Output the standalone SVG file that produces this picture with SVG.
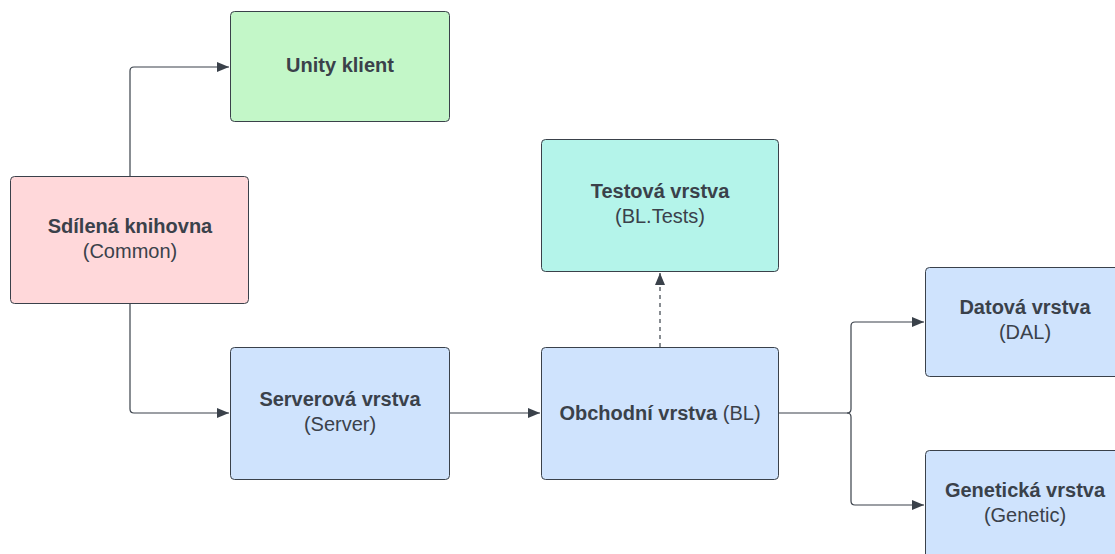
<svg xmlns="http://www.w3.org/2000/svg" width="1115" height="554" viewBox="0 0 1115 554">
<style>
.box{stroke:#3a414a;stroke-width:1}
.t{font-family:"Liberation Sans",Arial,sans-serif;font-size:20px;fill:#3a414a;text-anchor:middle}
.b{font-weight:bold}
.c{fill:none;stroke:#3a414a;stroke-width:1.2}
.d{stroke-dasharray:4 4}
</style>
<defs>
<marker id="ah" viewBox="0 0 12 10" refX="12" refY="5" markerWidth="12" markerHeight="10" markerUnits="userSpaceOnUse" orient="auto">
<path d="M0,0 L12,5 L0,10 Z" fill="#3a414a"/>
</marker>
</defs>
<rect width="1115" height="554" fill="#ffffff"/>
<g id="connectors">
<path class="c" d="M130,176 V71 Q130,67 134,67 H229" marker-end="url(#ah)"/>
<path class="c" d="M130,304 V409 Q130,413 134,413 H229" marker-end="url(#ah)"/>
<path class="c" d="M450,413 H540" marker-end="url(#ah)"/>
<path class="c d" d="M660,347 V273" marker-end="url(#ah)"/>
<path class="c" d="M779,413 H847 Q851,413 851,409 V326 Q851,322 855,322 H924" marker-end="url(#ah)"/>
<path class="c" d="M847,413 Q851,413 851,417 V501 Q851,505 855,505 H924" marker-end="url(#ah)"/>
</g>
<g id="unity">
<rect class="box" x="230.5" y="11.5" width="219" height="110" rx="4" fill="#c3f7c8"/>
<text class="t b" x="340" y="72">Unity klient</text>
</g>
<g id="common">
<rect class="box" x="10.5" y="176.5" width="238" height="127" rx="4" fill="#ffd8da"/>
<text class="t b" x="130" y="233">Sdílená knihovna</text>
<text class="t" x="130" y="258">(Common)</text>
</g>
<g id="server">
<rect class="box" x="230.5" y="347.5" width="219" height="132" rx="4" fill="#cfe3fd"/>
<text class="t b" x="340" y="406">Serverová vrstva</text>
<text class="t" x="340" y="431">(Server)</text>
</g>
<g id="bl">
<rect class="box" x="541.5" y="347.5" width="237" height="132" rx="4" fill="#cfe3fd"/>
<text class="t" x="660" y="420"><tspan class="b">Obchodní vrstva</tspan> (BL)</text>
</g>
<g id="tests">
<rect class="box" x="541.5" y="139.5" width="237" height="132" rx="4" fill="#b4f4ea"/>
<text class="t b" x="660" y="198">Testová vrstva</text>
<text class="t" x="660" y="223">(BL.Tests)</text>
</g>
<g id="dal">
<rect class="box" x="925.5" y="267.5" width="200" height="109" rx="4" fill="#cfe3fd"/>
<text class="t b" x="1025" y="314">Datová vrstva</text>
<text class="t" x="1025" y="339">(DAL)</text>
</g>
<g id="genetic">
<rect class="box" x="925.5" y="450.5" width="200" height="120" rx="4" fill="#cfe3fd"/>
<text class="t b" x="1025" y="497">Genetická vrstva</text>
<text class="t" x="1025" y="522">(Genetic)</text>
</g>
</svg>
